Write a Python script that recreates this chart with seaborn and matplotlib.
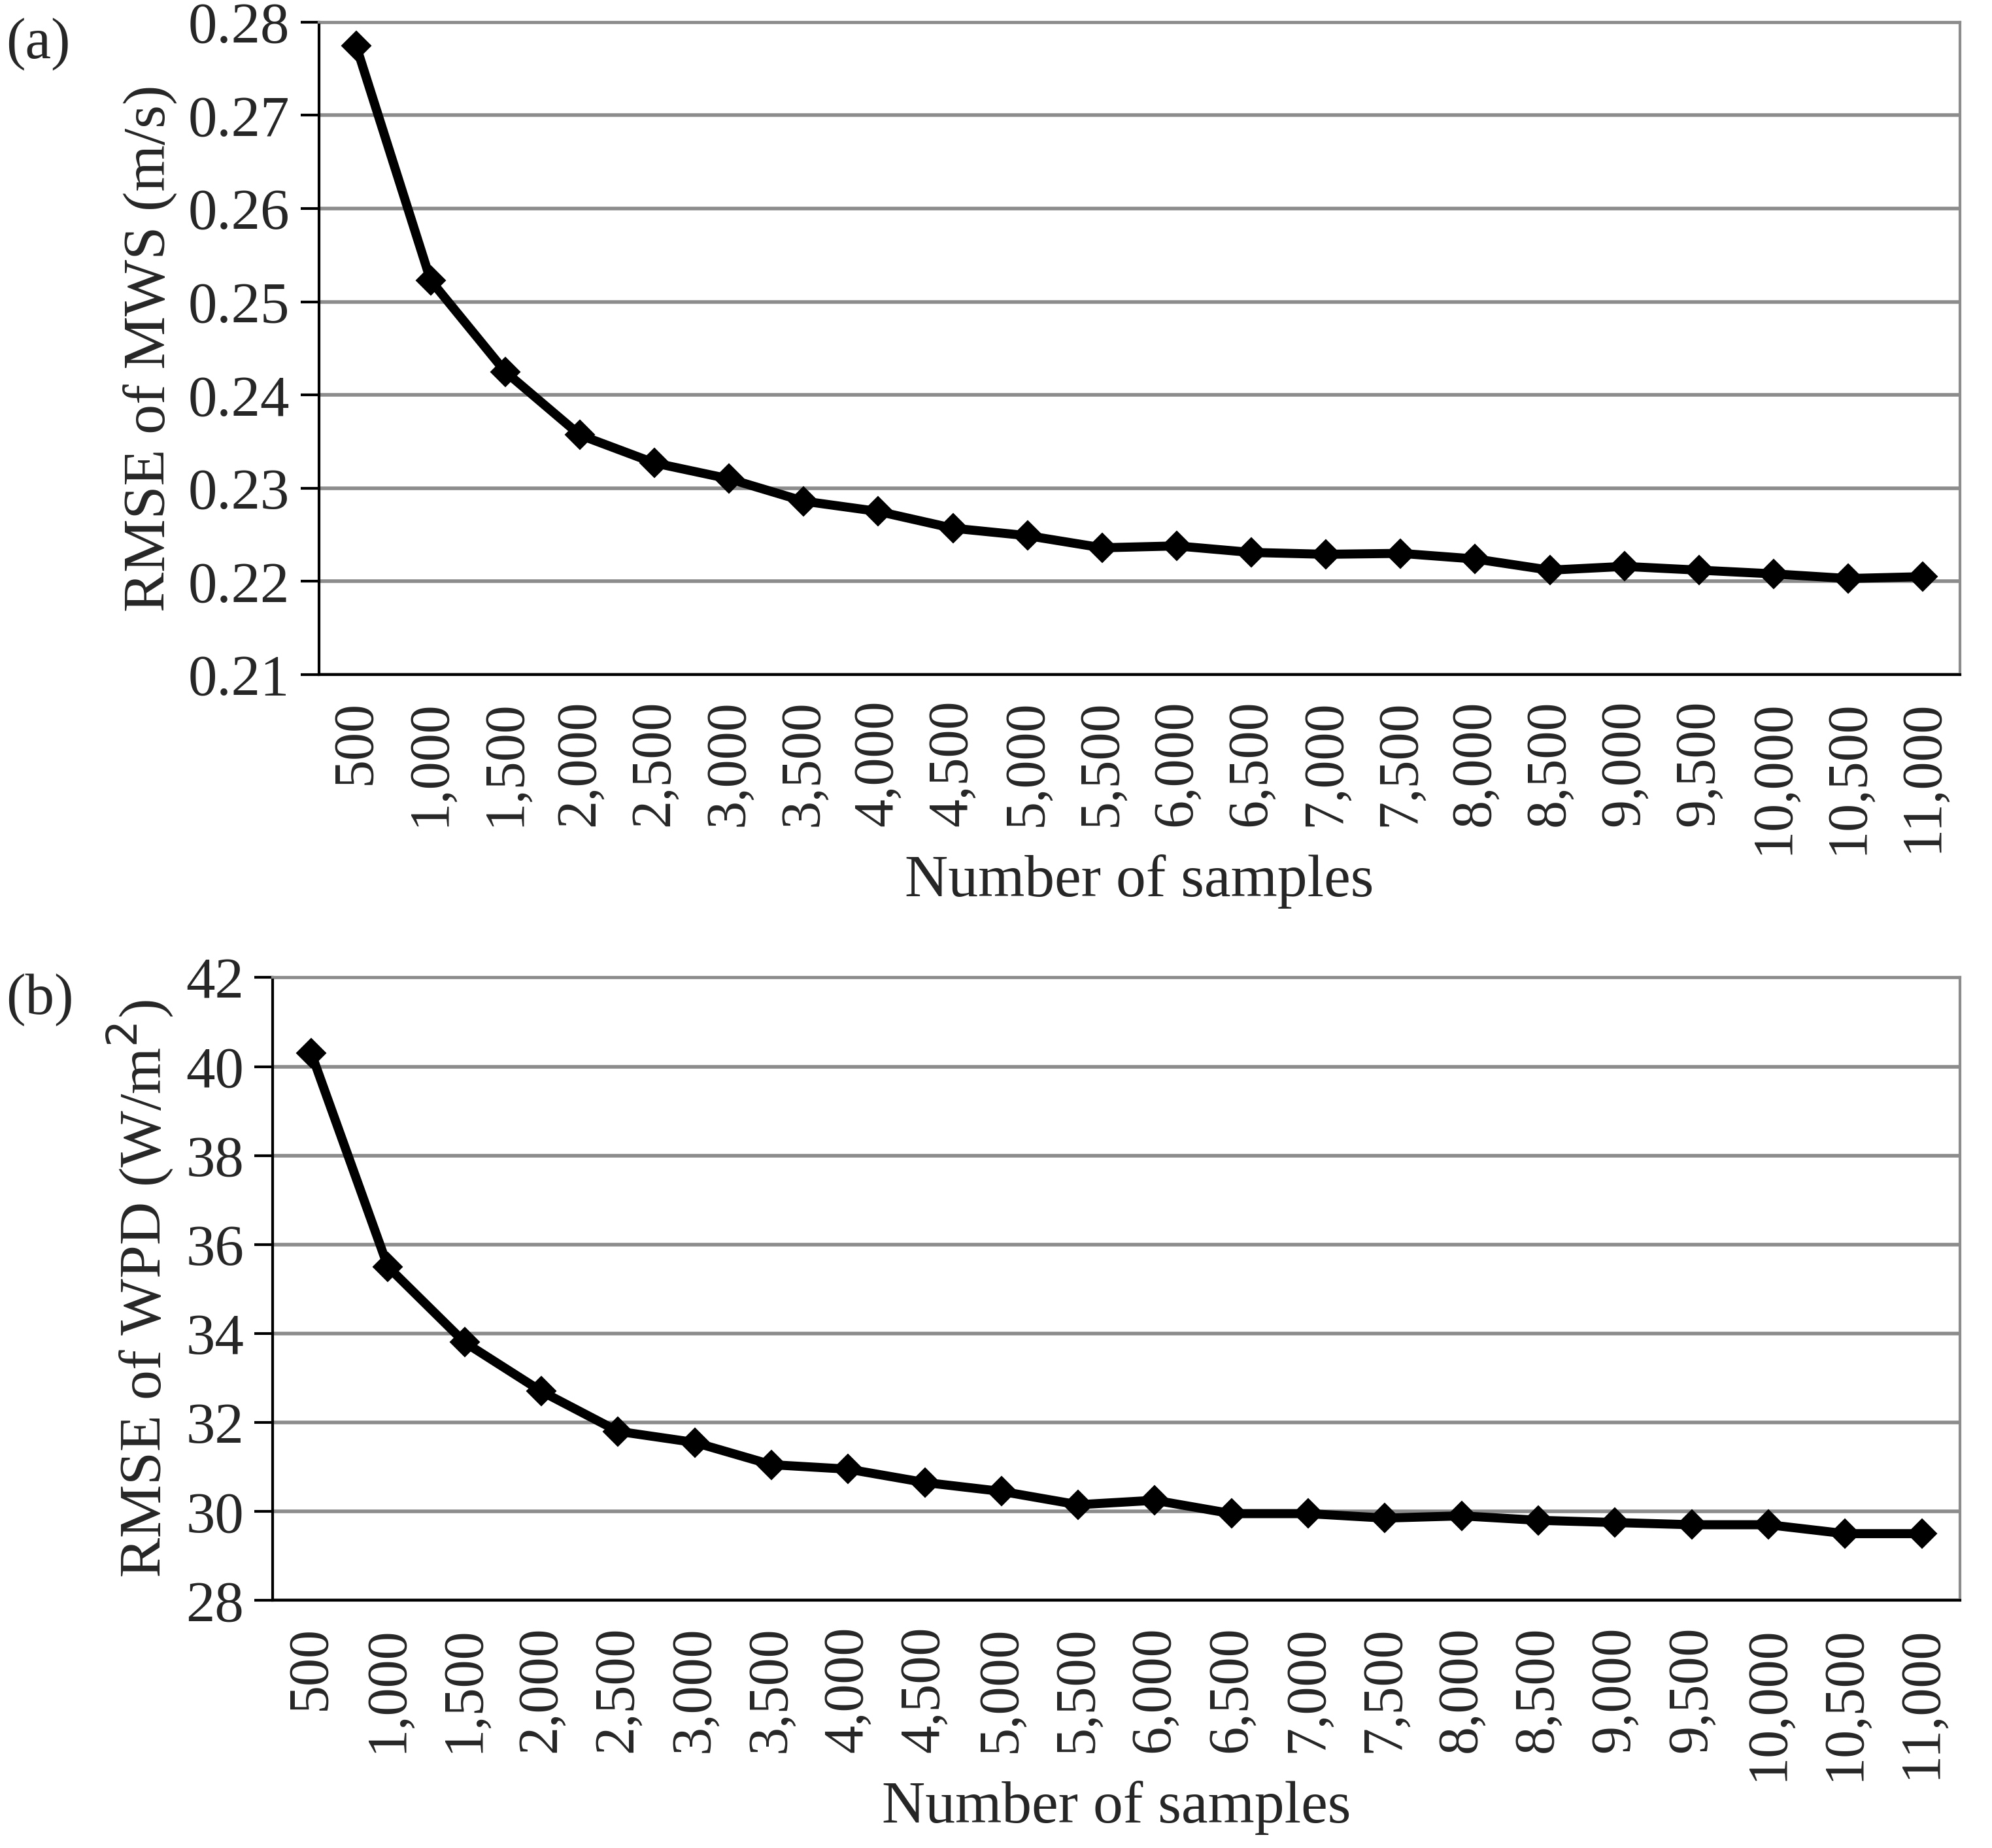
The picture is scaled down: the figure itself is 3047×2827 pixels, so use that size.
import numpy as np
import pandas as pd
import matplotlib
matplotlib.use('Agg')
import matplotlib.pyplot as plt
import seaborn as sns

samples = [f'{n:,}' for n in range(500, 11001, 500)]
rmse_mws = [0.2775, 0.2523, 0.2425, 0.2357, 0.2327, 0.2310, 0.2286, 0.2275, 0.2257, 0.2249, 0.2236,
            0.2238, 0.2231, 0.2229, 0.2230, 0.2224, 0.2212, 0.2216, 0.2212, 0.2208, 0.2203, 0.2205]
rmse_wpd = [40.3, 35.5, 33.8, 32.7, 31.8, 31.55, 31.05, 30.95, 30.65, 30.45, 30.15,
            30.25, 29.95, 29.95, 29.85, 29.9, 29.8, 29.75, 29.7, 29.7, 29.5, 29.5]

sns.set_style('white')
plt.rcParams['font.family'] = ['Liberation Serif', 'DejaVu Serif']

fig = plt.figure(figsize=(15.235, 14.135), dpi=200)
ax_a = fig.add_axes([0.160, 0.635, 0.824, 0.353])
ax_b = fig.add_axes([0.137, 0.134, 0.847, 0.337])

def draw(ax, vals, ylim, ystep, ylabel, fmt, tag):
    df = pd.DataFrame({'x': np.arange(len(vals)), 'y': vals})
    sns.lineplot(data=df, x='x', y='y', ax=ax, color='black', linewidth=5,
                 marker='D', markersize=11, markeredgecolor='black')
    ax.set_xlim(-0.5, len(vals) - 0.5)
    ax.set_ylim(*ylim)
    yt = np.arange(ylim[0], ylim[1] + ystep / 2, ystep)
    ax.set_yticks(yt)
    ax.set_yticklabels([fmt.format(v) for v in yt], fontsize=32)
    ax.set_xticks(np.arange(len(vals)))
    ax.set_xticklabels(samples, rotation=90, fontsize=31)
    ax.set_xticks(np.arange(len(vals) + 1) - 0.5, minor=True)
    ax.tick_params(axis='x', which='major', length=0, pad=14)
    ax.tick_params(axis='x', which='minor', length=10, width=1.5, color='black')
    ax.tick_params(axis='y', length=10, width=1.5, color='black', left=True, pad=6)
    ax.yaxis.grid(True, color='#8c8c8c', linewidth=2)
    ax.set_axisbelow(True)
    for s in ax.spines.values():
        s.set_color('#8c8c8c')
        s.set_linewidth(1.5)
    ax.spines['left'].set_color('black')
    ax.spines['bottom'].set_color('black')
    ax.set_xlabel('Number of samples', fontsize=33, labelpad=0)
    ax.set_ylabel(ylabel, fontsize=33, labelpad=6)
    fig.text(0.003, ax.get_position().y1 - 0.012, tag, fontsize=32, va='center')

draw(ax_a, rmse_mws, (0.21, 0.28), 0.01, 'RMSE of MWS (m/s)', '{:.2f}', '(a)')
draw(ax_b, rmse_wpd, (28, 42), 2, 'RMSE of WPD (W/m$^2$)', '{:.0f}', '(b)')

fig.savefig('out.png', dpi=200)
